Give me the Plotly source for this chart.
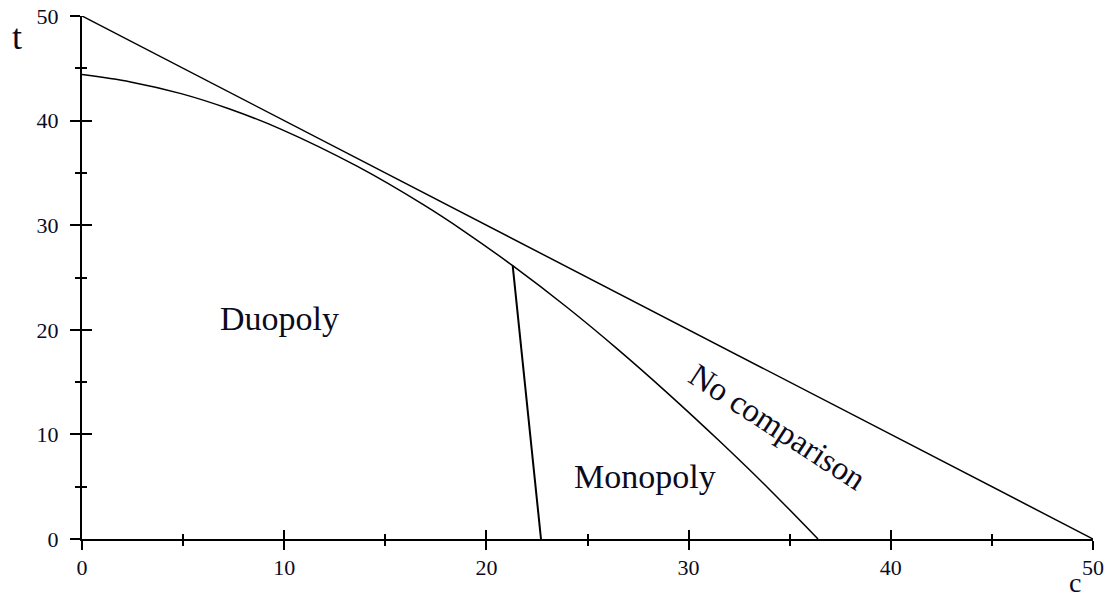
import plotly.graph_objects as go

# Region boundaries in the (c, t) plane
# Upper boundary: t = 50 - c
upper_c = [0, 50]
upper_t = [50, 0]

# Duopoly / monopoly frontier (curved boundary)
curve_c = [0.0, 2.4, 4.9, 7.3, 9.8, 13.6, 16.9, 18.9, 21.3, 24.0, 26.5, 29.0, 31.5, 34.0, 36.4]
curve_t = [44.4, 43.7, 42.58, 41.11, 39.21, 35.64, 31.94, 29.42, 26.13, 22.13, 18.13, 13.88, 9.41, 4.74, 0.0]

# Separator between duopoly and monopoly
split_c = [21.3, 22.7]
split_t = [26.13, 0.0]

region_labels = ["Duopoly", "Monopoly", "No comparison"]
label_c = [9.75, 27.85, 34.4]
label_t = [21.1, 5.95, 10.7]
label_angle = [0, 0, 33]
label_size = [34, 34, 33]

axis_ticks = [0, 10, 20, 30, 40, 50]
axis_ticktext = ["0", "10", "20", "30", "40", "50"]

SERIF = "Liberation Serif"
INK = "#0b0b1e"

fig = go.Figure()
fig.add_trace(go.Scatter(x=upper_c, y=upper_t, mode="lines",
                         line=dict(color="black", width=1.5), hoverinfo="skip"))
fig.add_trace(go.Scatter(x=curve_c, y=curve_t, mode="lines",
                         line=dict(color="black", width=1.5, shape="spline", smoothing=1.0),
                         hoverinfo="skip"))
fig.add_trace(go.Scatter(x=split_c, y=split_t, mode="lines",
                         line=dict(color="black", width=2), hoverinfo="skip"))

for txt, cx, ty, ang, sz in zip(region_labels, label_c, label_t, label_angle, label_size):
    fig.add_annotation(x=cx, y=ty, xref="x", yref="y", text=txt, showarrow=False,
                       textangle=ang, font=dict(family=SERIF, size=sz, color=INK),
                       xanchor="center", yanchor="middle")

# Axis titles
fig.add_annotation(x=-0.064, y=0.96, xref="x domain", yref="y domain", text="t",
                   showarrow=False, font=dict(family=SERIF, size=36, color=INK),
                   xanchor="center", yanchor="middle")
fig.add_annotation(x=0.982, y=-0.114, xref="x domain", yref="y domain", text="c",
                   showarrow=False, font=dict(family=SERIF, size=28, color=INK),
                   xanchor="center", yanchor="bottom", borderpad=0)

tick_font = dict(family=SERIF, size=22, color=INK)
common = dict(range=[0, 50], showgrid=False, zeroline=False, tickcolor="black",
              tickwidth=1.5, fixedrange=True, automargin=False)

fig.update_layout(
    width=1110, height=599,
    margin=dict(l=82, r=17, t=16, b=60),
    paper_bgcolor="white", plot_bgcolor="white",
    showlegend=False,
    xaxis=dict(**common, tickvals=axis_ticks, ticktext=axis_ticktext, ticks="outside",
               ticklen=9, showline=True, linecolor="black", linewidth=2,
               tickfont=tick_font, ticklabelstandoff=-1,
               minor=dict(tick0=0, dtick=5, ticks="outside", ticklen=5,
                          tickcolor="black", tickwidth=1.5)),
    yaxis=dict(**common, tickvals=axis_ticks, ticktext=axis_ticktext, ticks="outside",
               ticklen=10, showline=True, linecolor="black", linewidth=2,
               tickfont=tick_font, ticklabelstandoff=7,
               minor=dict(tick0=0, dtick=5, ticks="outside", ticklen=5,
                          tickcolor="black", tickwidth=1.5)),
    # Mirror axes carry the inner half of each crossing tick
    xaxis2=dict(**common, overlaying="x", anchor="y", side="bottom",
                tickvals=axis_ticks, ticks="inside", ticklen=9, showticklabels=False,
                showline=False,
                minor=dict(tick0=0, dtick=5, ticks="inside", ticklen=5,
                           tickcolor="black", tickwidth=1.5)),
    yaxis2=dict(**common, overlaying="y", anchor="x", side="left",
                tickvals=axis_ticks, ticks="inside", ticklen=10, showticklabels=False,
                showline=False,
                minor=dict(tick0=0, dtick=5, ticks="inside", ticklen=5,
                           tickcolor="black", tickwidth=1.5)),
)
fig.add_trace(go.Scatter(x=[], y=[], xaxis="x2", yaxis="y2", hoverinfo="skip"))

fig.write_html("out.html")
